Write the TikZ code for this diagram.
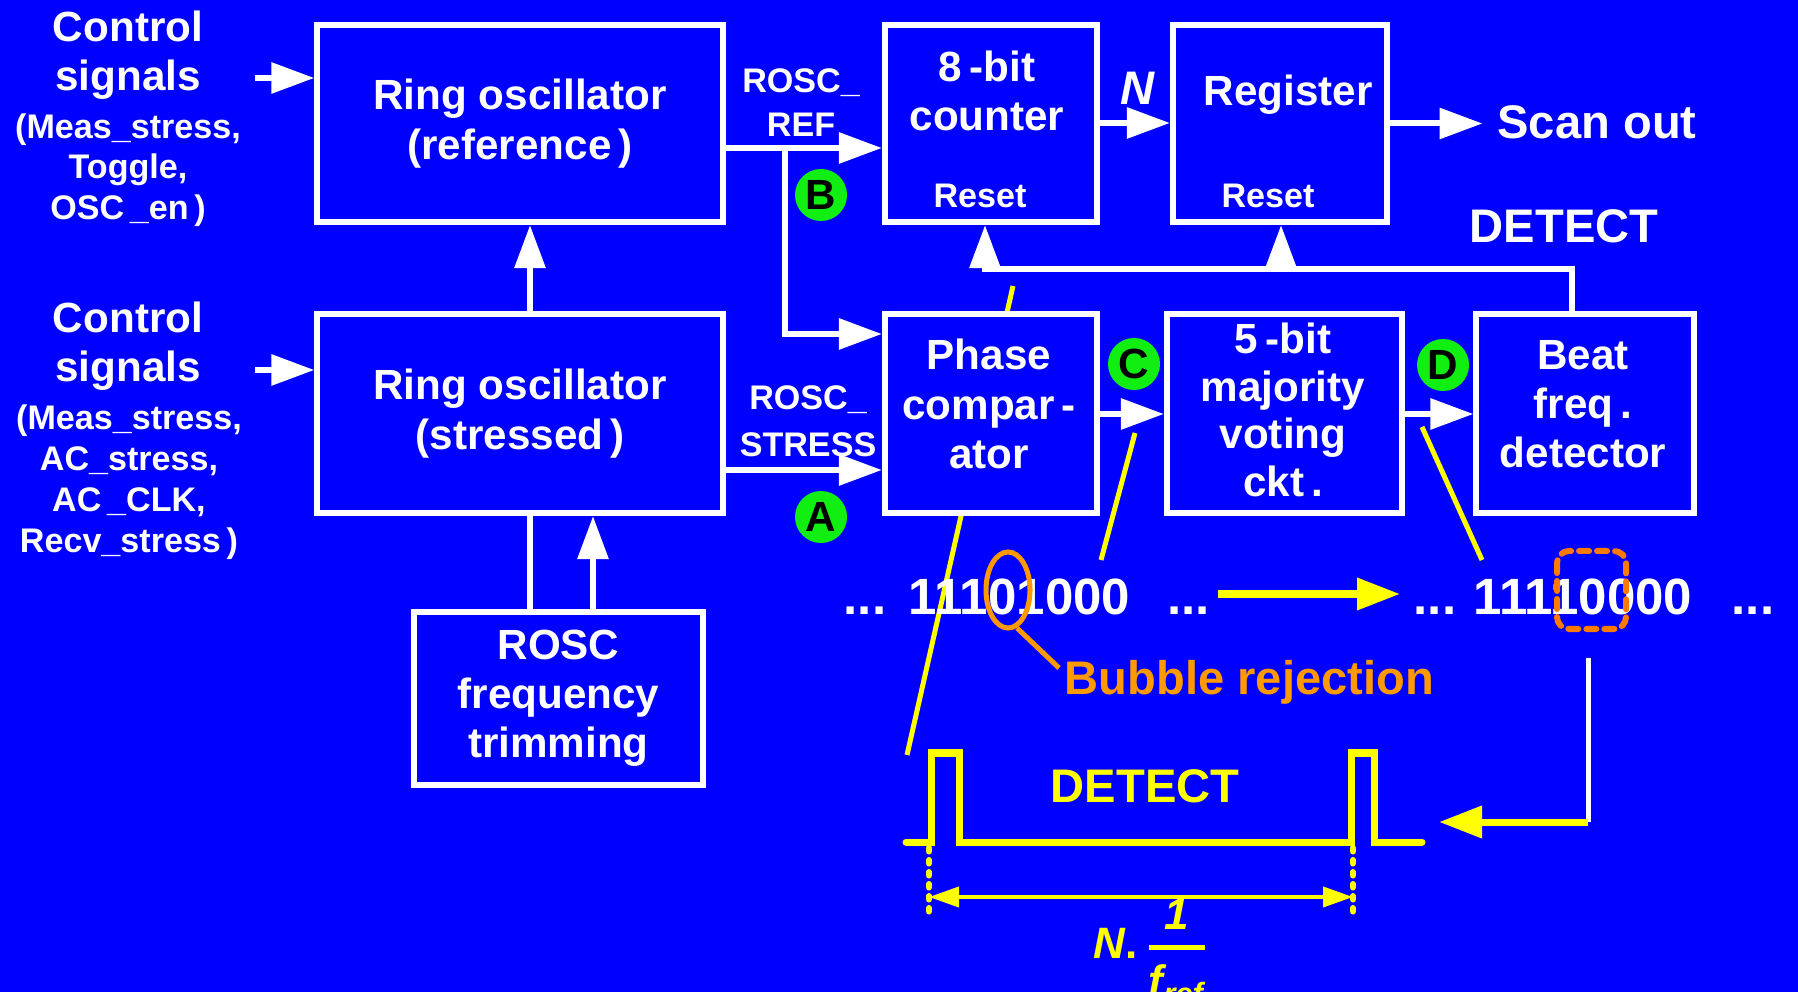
\documentclass[tikz,border=0pt]{standalone}
\usepackage{amsmath}
\usepackage{fontspec}
\setmainfont{Liberation Sans}
\usepackage{tikz}
\usetikzlibrary{arrows.meta,positioning}
\definecolor{bgc}{HTML}{0000FF}
\definecolor{ylw}{HTML}{FFFF00}
\definecolor{grn}{HTML}{11EE11}
\definecolor{orc}{HTML}{FF9900}
\definecolor{ordc}{HTML}{FF7A00}
\tikzset{
  box/.style={draw=white,line width=0.6mm,fill=bgc,text=white,align=center,inner sep=0pt,font=\bfseries\fontsize{12}{14}\selectfont},
  ar/.style={-{Triangle[length=4.3mm,width=3mm]},line width=0.6mm,white},
  ln/.style={line width=0.6mm,white},
  yar/.style={-{Triangle[length=4.3mm,width=3.1mm]},line width=0.7mm,ylw},
  yln/.style={line width=0.5mm,ylw},
  tagc/.style={circle,fill=grn,minimum size=5.2mm,inner sep=0pt,font=\bfseries\fontsize{12}{14}\selectfont},
  bigt/.style={text=white,align=center,inner sep=0pt,font=\bfseries\fontsize{12}{14}\selectfont},
  smlt/.style={text=white,align=center,inner sep=0pt,font=\bfseries\fontsize{9.7}{11.6}\selectfont},
  hugt/.style={inner sep=0pt,font=\bfseries\fontsize{13.4}{15}\selectfont},
  bits/.style={text=white,inner sep=0pt,anchor=base,font=\bfseries\fontsize{14.5}{16}\selectfont}
}
\begin{document}
\begin{tikzpicture}[x=0.01cm,y=-0.01cm]
\fill[bgc] (0,0) rectangle (1798,992);
\useasboundingbox (0,0) rectangle (1798,992);
\draw[yln] (1013,286) -- (907,755);

\node[box,minimum width=4.05cm,minimum height=1.97cm] (rref) at (520,123.5) {Ring oscillator\\(reference\,)};
\node[box,minimum width=4.05cm,minimum height=1.99cm] (rstr) at (520,413.5) {Ring oscillator\\(stressed\,)};
\node[box,minimum width=2.89cm,minimum height=1.73cm] (trim) at (558.5,698.5) {ROSC\\frequency\\trimming};
\node[box,minimum width=2.12cm,minimum height=1.97cm] (cnt) at (991,123.5) {};
\node[box,minimum width=2.14cm,minimum height=1.97cm] (reg) at (1280,123.5) {};
\node[box,minimum width=2.12cm,minimum height=1.99cm] (pcomp) at (991,413.5) {};
\node[box,minimum width=2.35cm,minimum height=1.99cm] (vote) at (1284.5,413.5) {};
\node[box,minimum width=2.17cm,minimum height=1.99cm] (beat) at (1585,413.5) {};
\node[bigt] (pcompt) at (989,404) {Phase\\compar\,-\\ator};
\node[bigt,font=\bfseries\fontsize{12}{13.6}\selectfont] (votet) at (1283,410) {5\,-bit\\majority\\voting\\ckt\,.};
\node[bigt] (beatt) at (1583,404) {Beat\\freq\,.\\detector};

\node[bigt] (cs1) at (128,55) {Control\\signals};
\node[smlt] (cp1) at (128,170) {(Meas\_stress,\\Toggle,\\OSC\,\_en\,)};
\node[bigt] (cs2) at (128,346) {Control\\signals};
\node[smlt] (cp2) at (129,482) {(Meas\_stress,\\AC\_stress,\\AC\,\_CLK,\\Recv\_stress\,)};
\coordinate (ci1) at (255,78);
\coordinate (ci2) at (255,370);
\draw[ar] (ci1) -- (rref.west |- ci1);
\draw[ar] (ci2) -- (rstr.west |- ci2);

\draw[ar] (rref.east |- 0,148) -- (cnt.west |- 0,148);
\coordinate (br) at (785,148);
\draw[ar] (br) |- (pcomp.west |- 0,334);
\draw[ar] (rstr.east |- 0,470) -- (pcomp.west |- 0,470);
\node[smlt,font=\bfseries\fontsize{9.7}{12.5}\selectfont] (lref) at (801,103) {ROSC\_\\REF};
\node[smlt,font=\bfseries\fontsize{9.7}{13.5}\selectfont] (lstr) at (808,421) {ROSC\_\\STRESS};
\draw[ar] (rstr.north -| 530,0) -- (rref.south -| 530,0);
\draw[ln] (trim.north -| 530,0) -- (rstr.south -| 530,0);
\draw[ar] (trim.north -| 593,0) -- (rstr.south -| 593,0);

\node[bigt,font=\bfseries\fontsize{12}{13.8}\selectfont] (cntt) at (987,91) {8\,-bit\\counter};
\node[smlt] (cntr) at (980,196) {Reset};
\node[bigt] (regt) at (1288,94.5) {Register};
\node[smlt] (regr) at (1268,196) {Reset};
\draw[ar] (cnt.east |- 0,123) -- (reg.west |- 0,123);
\node[hugt,text=white,font=\bfseries\itshape\fontsize{13.4}{15}\selectfont] (nn) at (1137,88) {N};
\node[hugt,text=white,outer sep=1.5mm] (scan) at (1597,122) {Scan out};
\draw[ar] (reg.east) -- (reg.east -| scan.west);
\node[hugt,text=white] (det) at (1564,226) {DETECT};

\coordinate (fb) at (1572,269);
\coordinate (fc) at (985,269);
\coordinate (fr) at (1281,269);
\draw[ln,line cap=rect] (beat.north -| fb) -- (fb) -- (fc);
\draw[ar] (fc) -- (cnt.south -| fc);
\draw[ar] (fr) -- (reg.south -| fr);
\draw[ar] (pcomp.east |- 0,414) -- (vote.west |- 0,414);
\draw[ar] (vote.east |- 0,414) -- (beat.west |- 0,414);

\node[tagc] (tb) at (821,195) {B};
\node[tagc] (ta) at (821,517) {A};
\node[tagc] (tc) at (1134,364) {C};
\node[tagc] (td) at (1443,365) {D};
\draw[yln] (1135,433) -- (1101,560);
\draw[yln] (1422,427) -- (1482,560);

\node[bits] (dl1) at (865,615) {...};
\node[bits] (bl) at (1019.5,615) {11101000};
\node[bits] (dl2) at (1188.5,615) {...};
\node[bits] (dr1) at (1435,615) {...};
\node[bits] (bright) at (1583,615) {11110000};
\node[bits] (dr2) at (1753,615) {...};
\coordinate (ya1) at (1218,594);
\coordinate (ya2) at (1400,594);
\draw[yar] (ya1) -- (ya2);

\draw[orc,line width=0.5mm] (1008,590) ellipse [x radius=0.22cm,y radius=0.38cm];
\draw[orc,line width=0.5mm] (1017,628) -- (1059,668);
\node[hugt,text=orc,anchor=base west] (bub) at (1064,695) {Bubble rejection};
\draw[ordc,line width=0.6mm,dash pattern=on 1mm off 0.8mm,line cap=round,rounded corners=1.2mm] (1557,551) rectangle (1626,629);

\coordinate (wv1) at (1588,658);
\coordinate (wv2) at (1588,822);
\coordinate (pa) at (1439,822);
\draw[white,line width=0.5mm] (wv1) -- (wv2);
\draw[yar] (wv2) -- (pa);

\draw[ylw,line width=0.7mm,line cap=round] (906,842) -- (931,842) -- (931,753) -- (959,753) -- (959,842) -- (1351,842) -- (1351,753) -- (1374,753) -- (1374,842) -- (1422,842);
\node[hugt,text=ylw] (dety) at (1145,786) {DETECT};
\draw[ylw,line width=0.6mm,dash pattern=on 0.35mm off 0.85mm,line cap=round] (929,848) -- (929,917);
\draw[ylw,line width=0.6mm,dash pattern=on 0.35mm off 0.85mm,line cap=round] (1353,848) -- (1353,917);
\draw[{Triangle[length=3mm,width=2mm]}-{Triangle[length=3mm,width=2mm]},ylw,line width=0.4mm] (929,897) -- (1353,897);
\node[anchor=base west,inner sep=0pt,text=ylw,font=\bfseries\fontsize{12.5}{14}\selectfont] (nf) at (1093,958) {$\textit{N}\textbf{.}\,\genfrac{}{}{1.4pt}{0}{\textit{1}}{\textit{f}_{\textit{ref}}}$};
\end{tikzpicture}
\end{document}
